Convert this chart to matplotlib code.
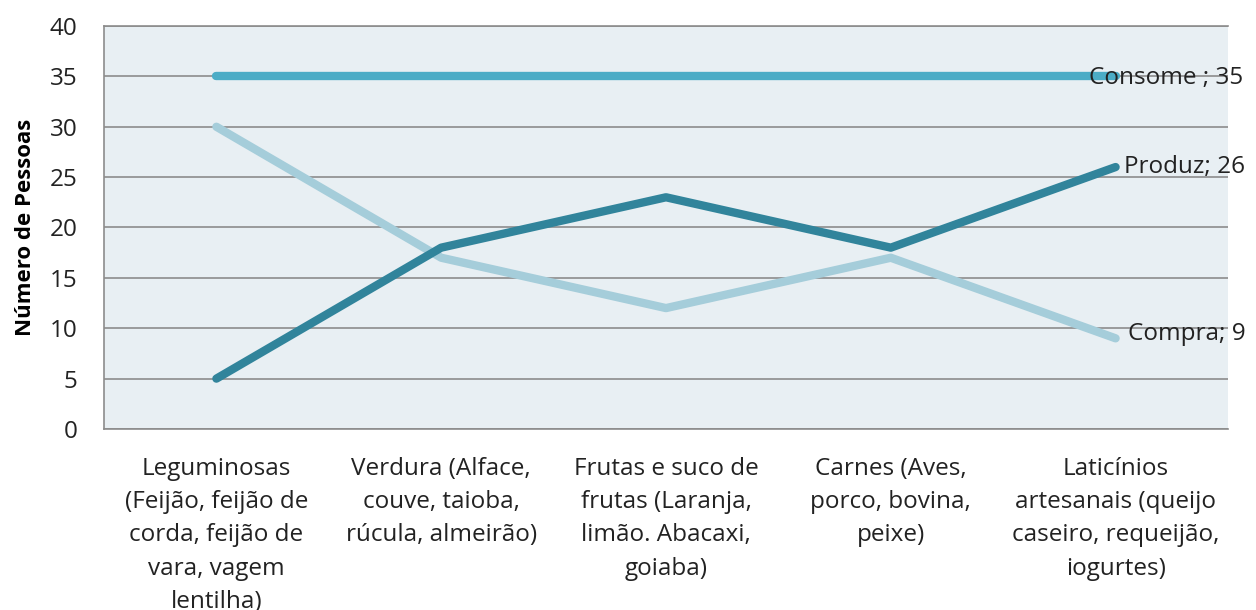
import numpy as np
import matplotlib
matplotlib.use('Agg')
from matplotlib import pyplot as plt

# Categories and series values
categorias = [
    'Leguminosas\n(Feijão, feijão de\ncorda, feijão de\nvara, vagem\nlentilha)',
    'Verdura (Alface,\ncouve, taioba,\nrúcula, almeirão)',
    'Frutas e suco de\nfrutas (Laranja,\nlimão. Abacaxi,\ngoiaba)',
    'Carnes (Aves,\nporco, bovina,\npeixe)',
    'Laticínios\nartesanais (queijo\ncaseiro, requeijão,\niogurtes)',
]
consome = [35, 35, 35, 35, 35]
produz = [5, 18, 23, 18, 26]
compra = [30, 17, 12, 17, 9]
y_ticks = [0, 5, 10, 15, 20, 25, 30, 35, 40]

plt.rcParams['font.family'] = ['Open Sans', 'DejaVu Sans']

fig = plt.figure(figsize=(12.56, 6.10), dpi=100)
ax = fig.add_axes([104/1256, 1 - 429/610, 1124/1256, 403/610])
ax.set_facecolor('#E8EFF3')

x = np.arange(len(categorias))
ax.plot(x, consome, color='#4BACC6', lw=6, solid_capstyle='round', zorder=3)
ax.plot(x, compra, color='#A5CDDA', lw=6, solid_capstyle='round', zorder=3)
ax.plot(x, produz, color='#31849B', lw=6, solid_capstyle='round', zorder=4)

# Data labels at the last point
lbl = dict(textcoords='offset points', ha='left', va='center', fontsize=17.5,
           color='#222222', annotation_clip=False, zorder=5)
ax.annotate('Consome ; 35', (x[-1], consome[-1]), xytext=(-19, -1), **lbl)
ax.annotate('Produz; 26', (x[-1], produz[-1]), xytext=(6, 0), **lbl)
ax.annotate('Compra; 9', (x[-1], compra[-1]), xytext=(9, 3), **lbl)

ax.set_xlim(-0.5, len(categorias) - 0.5)
ax.set_ylim(0, 40)
ax.set_yticks(y_ticks)
ax.set_xticks(x)
ax.set_xticklabels(categorias, fontsize=17.5, linespacing=1.52, color='#222222')
ax.tick_params(axis='y', length=0, pad=19, labelsize=17.5, colors='#222222')
ax.tick_params(axis='x', length=0, pad=20)

ax.grid(axis='y', color='#8C8C8C', lw=1.2, zorder=1)
ax.set_axisbelow(True)
for side in ['left', 'top', 'bottom']:
    ax.spines[side].set_color('#8C8C8C')
    ax.spines[side].set_linewidth(1.2)
ax.spines['right'].set_visible(False)

ax.set_ylabel('Número de Pessoas', fontsize=16, fontweight='bold', labelpad=10)

fig.savefig('out.png', dpi=100)
